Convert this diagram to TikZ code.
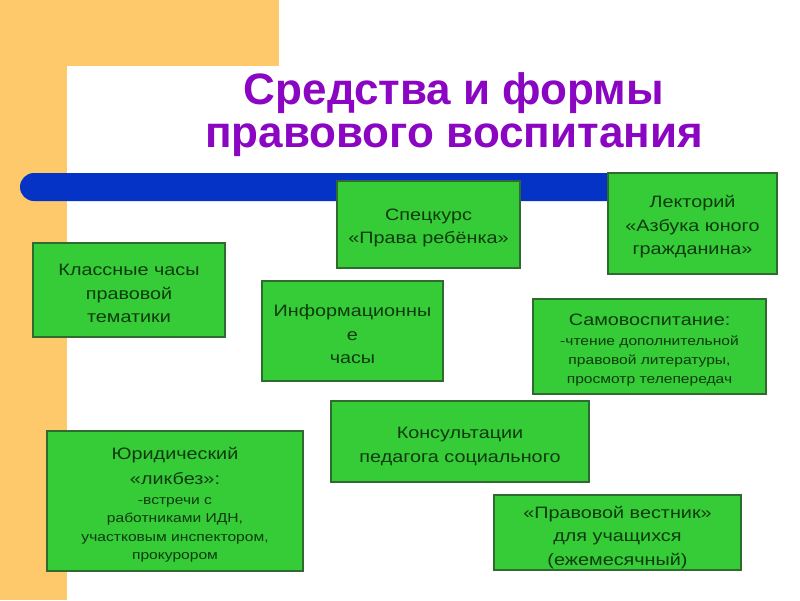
\documentclass[tikz,border=0pt]{standalone}
\usepackage{fontspec}
\setmainfont{Liberation Sans}
\newfontfamily\boxfont[FakeStretch=1.2]{Liberation Sans}
\definecolor{orangebg}{HTML}{FDC96A}
\definecolor{barblue}{HTML}{0533C6}
\definecolor{boxgreen}{HTML}{35CC38}
\definecolor{boxedge}{HTML}{2F6A2F}
\definecolor{boxtext}{HTML}{0E3A0E}
\definecolor{titlepurple}{HTML}{8A06C2}
\newcommand{\smalltxt}{\fontsize{13}{18.5}\selectfont}
\begin{document}
\begin{tikzpicture}[x=1pt,y=-1pt,
  box/.style={draw=boxedge, line width=1.1pt, fill=boxgreen, inner sep=0pt},
  boxtxt/.style={text=boxtext, align=center, inner sep=0pt, yshift=-3.5pt,
    font=\boxfont\fontsize{16.5}{23.5}\selectfont}]
\useasboundingbox (0,0) rectangle (800,600);
% background
\fill[white] (0,0) rectangle (800,600);
\fill[orangebg] (0,0) rectangle (67,600);
\fill[orangebg] (0,0) rectangle (279,66);
\fill[white, rounded corners=22pt] (67,66) rectangle (840,640);
% blue bar
\fill[barblue, rounded corners=14pt] (20,173) rectangle (650,201);
% title
\node[text=titlepurple, align=center, font=\fontsize{44}{43}\selectfont\bfseries] (title) at (454,115) {Средства и формы\\правового воспитания};
% boxes
\node[box, minimum width=183, minimum height=87] (spec) at (428.5,224.5) {};
\node[boxtxt] (spec-t) at (spec.center) {Спецкурс\\«Права ребёнка»};
\node[box, minimum width=169, minimum height=101] (lekt) at (692.5,223.5) {};
\node[boxtxt] (lekt-t) at (lekt.center) {Лекторий\\«Азбука юного\\гражданина»};
\node[box, minimum width=192, minimum height=94] (klass) at (129,290) {};
\node[boxtxt] (klass-t) at (klass.center) {Классные часы\\правовой\\тематики};
\node[box, minimum width=181, minimum height=100] (inform) at (352.5,331) {};
\node[boxtxt] (inform-t) at (inform.center) {Информационны\\е\\часы};
\node[box, minimum width=233, minimum height=95] (samo) at (649.5,346.5) {};
\node[boxtxt] (samo-t) at (samo.center) {Самовоспитание:\\[-3pt]\smalltxt -чтение дополнительной\\[-4.5pt]\smalltxt правовой литературы,\\[-4.5pt]\smalltxt просмотр телепередач};
\node[box, minimum width=258, minimum height=81] (kons) at (460,441.5) {};
\node[boxtxt] (kons-t) at ([yshift=-1.5pt]kons.center) {Консультации\\педагога социального};
\node[box, minimum width=256, minimum height=140] (jur) at (175,501) {};
\node[boxtxt] (jur-t) at (jur.center) {Юридический\\[2pt]«ликбез»:\\[-4pt]\smalltxt -встречи с\\[-5pt]\smalltxt работниками ИДН,\\[-5pt]\smalltxt участковым инспектором,\\[-5pt]\smalltxt прокурором};
\node[box, minimum width=247, minimum height=75] (vest) at (617.5,532.5) {};
\node[boxtxt] (vest-t) at ([yshift=-1.5pt]vest.center) {«Правовой вестник»\\для учащихся\\(ежемесячный)};
\end{tikzpicture}
\end{document}
